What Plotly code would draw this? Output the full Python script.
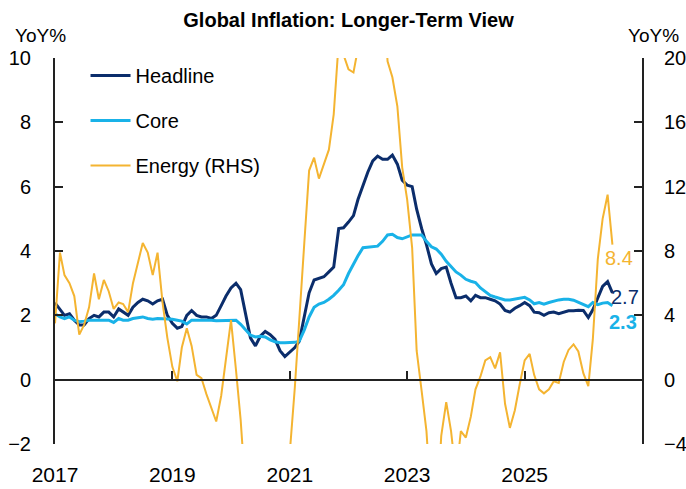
import pandas as pd
import plotly.graph_objects as go

# monthly data, Jan 2017 onwards (YoY %)
headline = [2.39, 2.2, 2.0, 2.05, 1.85, 1.7, 1.7, 1.9, 2.0, 1.95, 2.1, 2.1,
            1.95, 2.2, 2.1, 2.0, 2.25, 2.4, 2.5, 2.45, 2.35, 2.45, 2.5, 2.0,
            1.75, 1.6, 1.65, 2.0, 2.15, 2.0, 1.95, 1.95, 1.9, 2.0, 2.3, 2.6,
            2.85, 3.0, 2.8, 2.0, 1.3, 1.05, 1.35, 1.5, 1.4, 1.25, 0.9, 0.72,
            0.85, 1.0, 1.2, 2.0, 2.7, 3.1, 3.15, 3.2, 3.35, 3.5, 4.7, 4.72,
            4.9, 5.1, 5.6, 6.05, 6.45, 6.8, 6.95, 6.85, 6.85, 6.98, 6.7, 6.2,
            6.05, 6.0, 5.3, 4.7, 4.2, 3.6, 3.3, 3.45, 3.5, 3.0, 2.55, 2.55,
            2.6, 2.45, 2.62, 2.55, 2.55, 2.5, 2.45, 2.35, 2.15, 2.1, 2.22, 2.3,
            2.4, 2.3, 2.1, 2.08, 2.0, 2.08, 2.1, 2.05, 2.1, 2.14, 2.14, 2.16,
            2.15, 1.93, 2.17, 2.55, 2.9, 3.05, 2.7]

core = [2.05, 1.95, 1.9, 1.95, 1.85, 1.8, 1.82, 1.85, 1.85, 1.85, 1.85, 1.85,
        1.78, 1.9, 1.85, 1.85, 1.9, 1.92, 1.95, 1.9, 1.88, 1.9, 1.9, 1.88,
        1.88, 1.85, 1.82, 1.73, 1.85, 1.85, 1.85, 1.86, 1.85, 1.83, 1.83, 1.84,
        1.85, 1.85, 1.72, 1.55, 1.38, 1.33, 1.35, 1.33, 1.24, 1.18, 1.15, 1.15,
        1.15, 1.16, 1.2, 1.55, 1.95, 2.25, 2.35, 2.4, 2.5, 2.62, 2.78, 2.95,
        3.3, 3.6, 3.85, 4.1, 4.12, 4.13, 4.15, 4.3, 4.5, 4.52, 4.42, 4.38,
        4.45, 4.5, 4.5, 4.5, 4.3, 4.13, 4.06, 3.9, 3.68, 3.5, 3.35, 3.25,
        3.12, 3.06, 3.02, 2.85, 2.73, 2.62, 2.57, 2.52, 2.48, 2.48, 2.5, 2.52,
        2.56, 2.48, 2.36, 2.4, 2.35, 2.4, 2.45, 2.48, 2.5, 2.5, 2.47, 2.4,
        2.35, 2.27, 2.4, 2.33, 2.38, 2.4, 2.3]

energy = [3.5, 7.9, 6.5, 6.0, 5.2, 2.8, 3.4, 4.5, 6.6, 5.0, 6.2, 5.5,
          4.4, 4.8, 4.7, 4.2, 6.0, 7.2, 8.5, 7.9, 6.5, 7.9, 4.8, 2.6,
          0.8, -0.1, 2.0, 3.2, 2.1, 0.3, 0.1, -0.9, -1.8, -2.6, -1.0, 1.5,
          3.7, 0.6, -2.5, -7.0, -12, -15, -14, -12.5, -13, -14, -11, -8,
          -4.5, -0.5, 3.5, 8.5, 13.0, 13.8, 12.5, 13.4, 14.3, 16.5, 21, 20.2,
          19.3, 19.1, 20.6, 26, 30, 32, 30, 25, 19.8, 18.8, 17.0, 13.2,
          11.2, 8.2, 1.8, -0.7, -3.2, -8, -9, -3.5, -1.4, -3.2, -6, -3.2,
          -3.6, -2.3, -0.6, 0.2, 1.2, 1.4, 0.7, 1.7, -1.5, -3.0, -1.9, -0.3,
          1.2, 1.6, 0.3, -0.6, -0.85, -0.6, -0.1, -0.2, 1.1, 1.85, 2.2, 1.75,
          0.4, -0.4, 2.5, 7.5, 10.0, 11.5, 8.4]

dates = pd.date_range("2017-01-01", periods=len(headline), freq="MS")

year_ticks = ["2017-01-01", "2019-01-01", "2021-01-01", "2023-01-01", "2025-01-01"]
year_labels = ["2017", "2019", "2021", "2023", "2025"]

NAVY = "#0b2d6b"
CYAN = "#19b2e8"
GOLD = "#f4b431"
AXIS = "#222222"
FONT = "Liberation Sans, Arial, sans-serif"

fig = go.Figure()

fig.add_trace(go.Scatter(x=dates, y=headline, name="Headline", mode="lines",
                         line=dict(color=NAVY, width=3), legendgroup="a"))
fig.add_trace(go.Scatter(x=dates, y=core, name="Core", mode="lines",
                         line=dict(color=CYAN, width=3), legendgroup="b"))
fig.add_trace(go.Scatter(x=dates, y=energy, name="Energy (RHS)", mode="lines",
                         line=dict(color=GOLD, width=2), yaxis="y2", legendgroup="c"))
# dummy trace so the zero-line axis gets drawn
fig.add_trace(go.Scatter(x=[dates[0]], y=[None], xaxis="x2", showlegend=False,
                         hoverinfo="skip"))

# end-of-line labels
fig.add_annotation(x=dates[-1], y=energy[-1], yref="y2", text="8.4", showarrow=False,
                   xshift=7, yshift=-13, font=dict(color=GOLD, size=20))
fig.add_annotation(x=dates[-1], y=headline[-1], text="2.7", showarrow=False,
                   xshift=13, yshift=-4, font=dict(color=NAVY, size=20))
fig.add_annotation(x=dates[-1], y=core[-1], text="<b>2.3</b>", showarrow=False,
                   xshift=11, yshift=-16, font=dict(color=CYAN, size=20))

# axis unit labels
fig.add_annotation(x=-0.025, y=1.057, xref="paper", yref="paper", text="YoY%",
                   xanchor="center", yanchor="middle",
                   showarrow=False, font=dict(size=19, color="black"))
fig.add_annotation(x=1.02, y=1.057, xref="paper", yref="paper", text="YoY%",
                   xanchor="center", yanchor="middle",
                   showarrow=False, font=dict(size=19, color="black"))

fig.update_layout(
    width=686, height=489,
    margin=dict(l=55, r=44, t=58, b=45),
    paper_bgcolor="white", plot_bgcolor="white",
    font=dict(family=FONT, size=20, color="black"),
    title=dict(text="<b>Global Inflation: Longer-Term View</b>", x=0.5, xref="paper",
               y=0.959, yanchor="middle", font=dict(size=20, color="black"),
               automargin=False),
    showlegend=True,
    legend=dict(x=0.052, y=1.005, xanchor="left", yanchor="top", bgcolor="rgba(0,0,0,0)",
                font=dict(size=20), tracegroupgap=16, itemwidth=40),
    xaxis=dict(type="date", range=["2017-01-01", "2027-01-01"], tickvals=year_ticks,
               ticktext=year_labels, showgrid=False, showline=False, zeroline=False,
               ticks="", ticklabelstandoff=16, tickfont=dict(size=21), automargin=False),
    xaxis2=dict(type="date", overlaying="x", anchor="free", position=1 / 6,
                range=["2017-01-01", "2027-01-01"], tickvals=year_ticks,
                showticklabels=False, showgrid=False, zeroline=False,
                showline=True, linecolor=AXIS, linewidth=2, automargin=False,
                ticks="inside", ticklen=8, tickwidth=2, tickcolor=AXIS),
    yaxis=dict(range=[-2, 10], dtick=2, showgrid=False, zeroline=False,
               showline=True, linecolor=AXIS, linewidth=2, automargin=False,
               ticks="inside", ticklen=8, tickwidth=2, tickcolor=AXIS,
               ticklabelstandoff=18),
    yaxis2=dict(range=[-4, 20], dtick=4, overlaying="y", side="right",
                showgrid=False, zeroline=False, automargin=False,
                showline=True, linecolor=AXIS, linewidth=2,
                ticks="inside", ticklen=8, tickwidth=2, tickcolor=AXIS,
                ticklabelstandoff=16),
)

# drop the browser's default 8px body margin so the figure fills the window
fig.write_html("out.html",
               config={"displayModeBar": False},
               post_script="document.body.style.margin='0';"
                           "document.body.style.overflow='hidden';")
